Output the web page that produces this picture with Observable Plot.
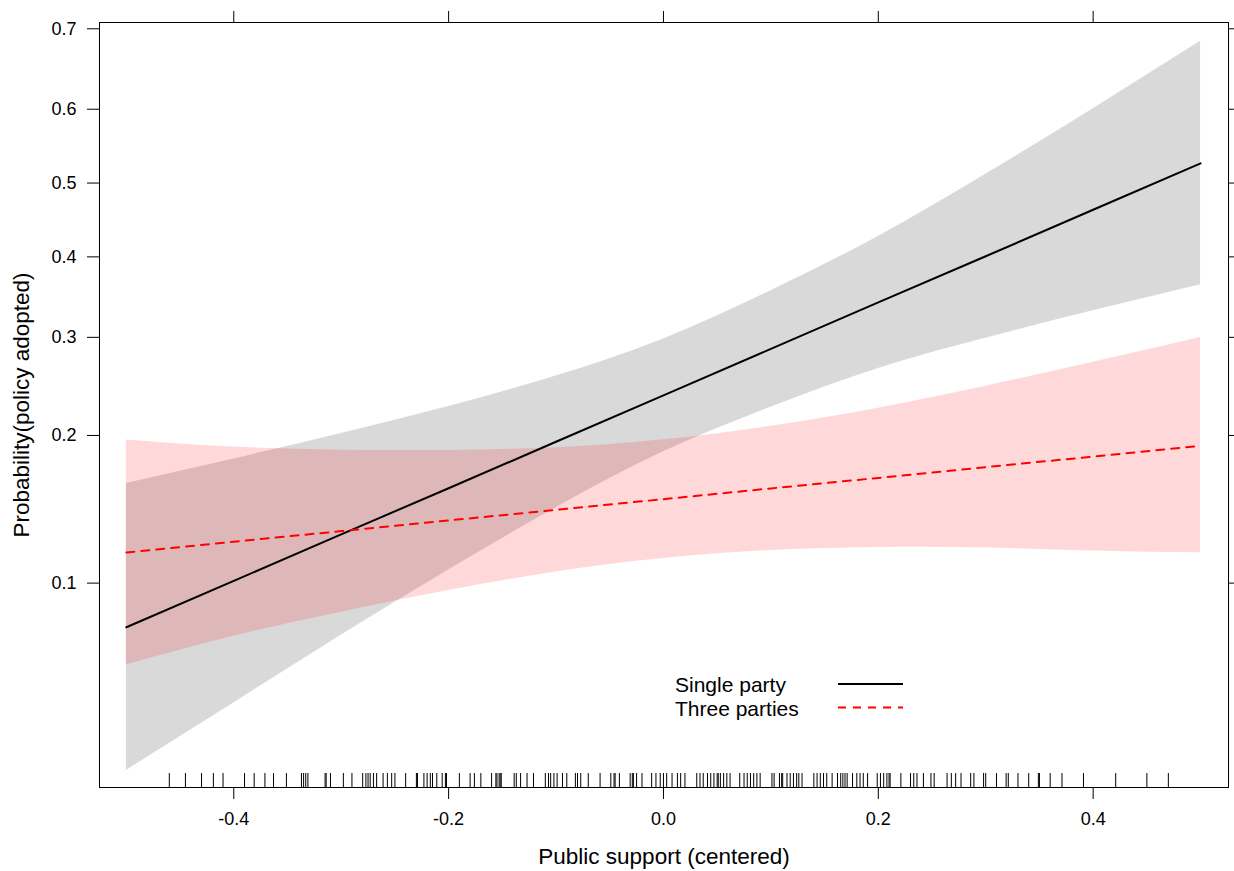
<!DOCTYPE html>
<html><head><meta charset="utf-8">
<script src="https://cdn.jsdelivr.net/npm/d3@7"></script>
<script src="https://cdn.jsdelivr.net/npm/@observablehq/plot@0.6"></script>
<style>
body{margin:0;background:#fff;}
#wrap{position:relative;width:1234px;height:871px;font-family:"Liberation Sans",Arial,sans-serif;}
#legend{position:absolute;left:0;top:0;pointer-events:none;}
</style></head><body><div id="wrap"></div>
<script>
// ---- data ----
const seriesNames = ["Single party", "Three parties"];
const seriesColors = ["#000000", "#ff0000"];
const xValues = [-0.5, -0.4, -0.3, -0.2, -0.1, 0.0, 0.1, 0.2, 0.3, 0.4, 0.5];
const singleFit   = [0.0802, 0.1011, 0.1268, 0.1576, 0.1945, 0.2376, 0.2868, 0.3417, 0.4008, 0.4634, 0.5270];
const singleLower = [0.0382, 0.0544, 0.0770, 0.1067, 0.1439, 0.1860, 0.2260, 0.2653, 0.2990, 0.3314, 0.3638];
const singleUpper = [0.1611, 0.1802, 0.2017, 0.2267, 0.2573, 0.2982, 0.3564, 0.4273, 0.5120, 0.6006, 0.6853];
const threeFit    = [0.1162, 0.1224, 0.1288, 0.1355, 0.1425, 0.1498, 0.1575, 0.1653, 0.1736, 0.1821, 0.1911];
const threeLower  = [0.0662, 0.0766, 0.0865, 0.0964, 0.1056, 0.1128, 0.1173, 0.1190, 0.1188, 0.1171, 0.1160];
const threeUpper  = [0.1961, 0.1900, 0.1874, 0.1872, 0.1895, 0.1962, 0.2082, 0.2251, 0.2467, 0.2721, 0.2998];
const rugValues = [-0.460,-0.445,-0.430,-0.419,-0.410,-0.390,-0.381,-0.371,-0.363,-0.351,-0.337,-0.335,-0.333,-0.331,
  -0.315,-0.314,-0.310,-0.298,-0.290,-0.280,-0.277,-0.275,-0.273,-0.270,-0.267,-0.261,-0.257,-0.253,-0.250,-0.240,
  -0.230,-0.229,-0.223,-0.220,-0.217,-0.215,-0.211,-0.206,-0.203,-0.202,-0.190,-0.180,-0.176,-0.170,-0.160,-0.156,
  -0.155,-0.153,-0.152,-0.151,-0.139,-0.137,-0.133,-0.127,-0.121,-0.110,-0.107,-0.105,-0.102,-0.099,-0.094,-0.090,
  -0.082,-0.080,-0.077,-0.070,-0.059,-0.049,-0.046,-0.045,-0.041,-0.031,-0.029,-0.028,-0.025,-0.020,-0.011,-0.007,
  -0.003,0.000,0.003,0.008,0.013,0.016,0.020,0.031,0.034,0.037,0.041,0.044,0.047,0.050,0.051,0.053,0.056,0.059,
  0.062,0.071,0.075,0.078,0.081,0.084,0.087,0.090,0.101,0.103,0.108,0.110,0.111,0.115,0.118,0.121,0.124,0.126,
  0.129,0.140,0.143,0.146,0.149,0.152,0.157,0.162,0.165,0.167,0.169,0.171,0.176,0.180,0.183,0.186,0.190,0.199,
  0.202,0.205,0.208,0.210,0.211,0.221,0.230,0.233,0.236,0.242,0.249,0.252,0.264,0.268,0.272,0.277,0.286,0.289,
  0.298,0.300,0.310,0.319,0.321,0.330,0.340,0.349,0.350,0.360,0.371,0.391,0.421,0.450,0.470];
const xTicks = [-0.4, -0.2, 0.0, 0.2, 0.4];
const yTickProbs = [0.1, 0.2, 0.3, 0.4, 0.5, 0.6, 0.7];
const xDomain = [-0.525, 0.526];
const yDomainProbs = [0.0349, 0.7072];
const xTitle = "Public support (centered)";
const yTitle = "Probability(policy adopted)";

// ---- build table (logit scale like the effects plot) ----
const logit = p => Math.log(p / (1 - p));
const invlogit = v => 1 / (1 + Math.exp(-v));
const fits = [singleFit, threeFit], lows = [singleLower, threeLower], ups = [singleUpper, threeUpper];
const rows = [];
seriesNames.forEach((s, k) => xValues.forEach((x, i) =>
  rows.push({series: s, x, fit: fits[k][i], lower: lows[k][i], upper: ups[k][i]})));
const bySeries = s => rows.filter(r => r.series === s);

const font = '"Liberation Sans", Arial, sans-serif';
const chart = Plot.plot({
  width: 1234, height: 871,
  marginLeft: 99, marginRight: 6, marginTop: 22, marginBottom: 84,
  style: {fontFamily: font, fontSize: "18px", background: "white", color: "black", overflow: "visible"},
  x: {domain: xDomain},
  y: {domain: yDomainProbs.map(logit)},
  marks: [
    Plot.areaY(bySeries(seriesNames[0]), {x: "x", y1: d => logit(d.lower), y2: d => logit(d.upper), fill: seriesColors[0], fillOpacity: 0.15, curve: "natural"}),
    Plot.areaY(bySeries(seriesNames[1]), {x: "x", y1: d => logit(d.lower), y2: d => logit(d.upper), fill: seriesColors[1], fillOpacity: 0.15, curve: "natural"}),
    Plot.ruleX(rugValues, {x: d => d, insetTop: 751, stroke: "#000", strokeWidth: 1}),
    Plot.lineY(bySeries(seriesNames[0]), {x: "x", y: d => logit(d.fit), stroke: seriesColors[0], strokeWidth: 2}),
    Plot.lineY(bySeries(seriesNames[1]), {x: "x", y: d => logit(d.fit), stroke: seriesColors[1], strokeWidth: 2, strokeDasharray: "8,7"}),
    Plot.frame({stroke: "#000", strokeWidth: 1}),
    Plot.axisX({anchor: "bottom", ticks: xTicks, tickFormat: d => d.toFixed(1), tickSize: 12, tickPadding: 13, fontSize: 18, label: null}),
    Plot.axisX({anchor: "top", ticks: xTicks, tickFormat: () => "", tickSize: 12, label: null}),
    Plot.axisY({anchor: "left", ticks: yTickProbs.map(logit), tickFormat: d => invlogit(d).toFixed(1), tickSize: 12, tickPadding: 11, fontSize: 18, label: null}),
    Plot.axisY({anchor: "right", ticks: yTickProbs.map(logit), tickFormat: () => "", tickSize: 12, label: null}),
    Plot.text([xTitle], {frameAnchor: "bottom", dy: 76, fontSize: 22.5, fill: "#000"}),
    Plot.text([yTitle], {frameAnchor: "left", dx: -78, rotate: -90, textAnchor: "middle", fontSize: 22.5, fill: "#000"})
  ]
});
const wrap = document.getElementById("wrap");
wrap.appendChild(chart);

// ---- legend inside the panel ----
const ns = "http://www.w3.org/2000/svg";
const leg = document.createElementNS(ns, "svg");
leg.setAttribute("id", "legend");
leg.setAttribute("width", 1234); leg.setAttribute("height", 871);
seriesNames.forEach((s, k) => {
  const t = document.createElementNS(ns, "text");
  t.setAttribute("x", 675); t.setAttribute("y", 692 + 24 * k);
  t.setAttribute("font-family", font); t.setAttribute("font-size", "21");
  t.textContent = s;
  leg.appendChild(t);
  const l = document.createElementNS(ns, "line");
  l.setAttribute("x1", 838); l.setAttribute("x2", 903);
  l.setAttribute("y1", 684 + 23.5 * k); l.setAttribute("y2", 684 + 23.5 * k);
  l.setAttribute("stroke", seriesColors[k]); l.setAttribute("stroke-width", 2);
  if (k === 1) l.setAttribute("stroke-dasharray", "8,7");
  leg.appendChild(l);
});
wrap.appendChild(leg);
</script></body></html>
